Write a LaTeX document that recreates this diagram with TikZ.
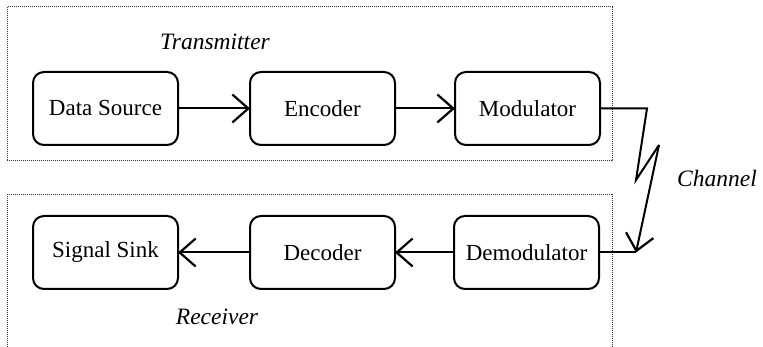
\documentclass[tikz,border=0pt]{standalone}
\usepackage{fontspec}
\setmainfont{Liberation Serif}
\usetikzlibrary{arrows.meta}
\begin{document}
\begin{tikzpicture}[x=1pt,y=-1pt,
  blk/.style={draw, line width=2pt, rounded corners=11pt, minimum width=145pt, minimum height=73pt, inner sep=0pt, font=\fontsize{23}{27}\selectfont},
  lbl/.style={font=\fontsize{23.5}{27}\selectfont\itshape},
  frame/.style={draw=black!80, line width=1pt, dash pattern=on 1pt off 1pt},
  conn/.style={line width=2pt, shorten >=-1pt, -{Straight Barb[length=16pt,width=28pt,line width=2.2pt]}}]
\useasboundingbox[fill=white] (0,0) rectangle (763,347);
\draw[frame] (7,7) rectangle (612,161);
\draw[frame] (7,347) -- (7,195) -- (612,195) -- (612,347);
\node[lbl] (tx) at (215,42) {Transmitter};
\node[lbl] (rx) at (217,317) {Receiver};
\node[lbl] (ch) at (717,178) {Channel};
\node[blk] (src) at (105.5,108.5) {Data Source};
\node[blk] (enc) at (322.5,108.5) {Encoder};
\node[blk] (mod) at (527.5,108.5) {Modulator};
\node[blk] (snk) at (105.5,252.5) {Signal Sink};
\node[blk] (dec) at (322.5,252.5) {Decoder};
\node[blk] (dem) at (526.5,252.5) {Demodulator};
\draw[conn] (src) -- (enc);
\draw[conn] (enc) -- (mod);
\draw[conn] (dem) -- (dec);
\draw[conn] (dec) -- (snk);
\coordinate (z1) at (647,108.5);
\coordinate (z2) at (636,180);
\coordinate (z3) at (659,145);
\coordinate (z4) at (636,252.5);
\draw[line width=2pt, line join=miter] (mod.east) -- (z1) -- (z2) -- (z3);
\draw[conn, shorten >=0pt] (z3) -- (z4);
\draw[line width=2pt] (z4) -- (dem.east);
\end{tikzpicture}
\end{document}
